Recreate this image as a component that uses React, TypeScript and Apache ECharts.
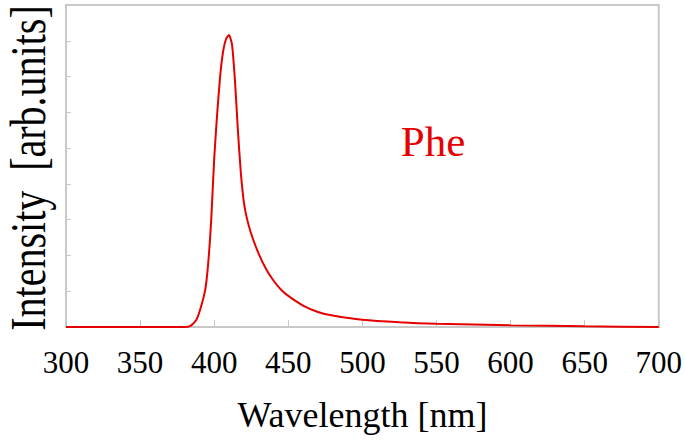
import React, { useEffect, useRef } from "react";
import * as echarts from "echarts";

const wavelengths = [300, 350, 380, 384, 388, 391, 394, 396, 398, 400, 402, 404, 406, 408, 410, 412, 414, 416, 418, 420, 422, 425, 430, 435, 440, 445, 450, 460, 470, 480, 500, 525, 550, 600, 650, 700];
const intensities = [0, 0, 0, 0.03, 0.2, 0.55, 1.05, 1.8, 3.0, 4.7, 5.95, 7.0, 7.7, 8.05, 8.16, 7.9, 6.9, 5.5, 4.3, 3.5, 3.05, 2.6, 2.05, 1.62, 1.3, 1.05, 0.87, 0.6, 0.42, 0.32, 0.2, 0.13, 0.09, 0.05, 0.02, 0];
const xTicks = [300, 350, 400, 450, 500, 550, 600, 650, 700];
const seriesLabel = "Phe";
const xTitle = "Wavelength [nm]";
const yTitle = "Intensity  [arb.units]";

const FONT = "'Liberation Serif', 'Times New Roman', serif";

export default function App() {
  const ref = useRef<HTMLDivElement>(null);
  useEffect(() => {
    if (!ref.current) return;
    const chart = echarts.init(ref.current, null, { renderer: "svg" });
    chart.setOption({
      animation: false,
      backgroundColor: "#ffffff",
      grid: {
        left: 66,
        right: 25,
        top: 5,
        bottom: 114,
        show: true,
        borderColor: "#c8c8c8",
        borderWidth: 2,
      },
      xAxis: {
        type: "value",
        min: xTicks[0],
        max: xTicks[xTicks.length - 1],
        interval: 50,
        name: xTitle,
        nameLocation: "middle",
        nameGap: 70,
        nameTextStyle: { fontFamily: FONT, fontSize: 36, color: "#000" },
        axisLine: { show: true, lineStyle: { color: "#c8c8c8", width: 2 } },
        axisTick: { show: true, inside: true, length: 7, lineStyle: { color: "#c8c8c8", width: 1 } },
        axisLabel: { fontFamily: FONT, fontSize: 31, color: "#000", margin: 20 },
        splitLine: { show: false },
      },
      yAxis: {
        type: "value",
        min: 0,
        max: 9,
        interval: 1,
        axisLine: { show: true, lineStyle: { color: "#c8c8c8", width: 2 } },
        axisTick: { show: true, inside: true, length: 5, lineStyle: { color: "#c8c8c8", width: 1 } },
        axisLabel: { show: false },
        splitLine: { show: false },
      },
      graphic: [
        {
          type: "text",
          x: 28,
          y: 168,
          rotation: Math.PI / 2,
          scaleY: 1.25,
          style: {
            text: yTitle,
            fontFamily: FONT,
            fontSize: 40,
            fill: "#000",
            align: "center",
            verticalAlign: "middle",
          },
        },
        {
          type: "text",
          x: 433,
          y: 141,
          style: {
            text: seriesLabel,
            fontFamily: FONT,
            fontSize: 43,
            fill: "#e60000",
            align: "center",
            verticalAlign: "middle",
          },
        },
      ],
      series: [
        {
          type: "line",
          data: wavelengths.map((w, i) => [w, intensities[i]]),
          showSymbol: false,
          smooth: 0.2,
          lineStyle: { color: "#e60000", width: 2 },
          itemStyle: { color: "#e60000" },
        },
      ],
    });
    return () => chart.dispose();
  }, []);
  return <div ref={ref} style={{ position: "fixed", left: 0, top: 0, width: 685, height: 441 }} />;
}
